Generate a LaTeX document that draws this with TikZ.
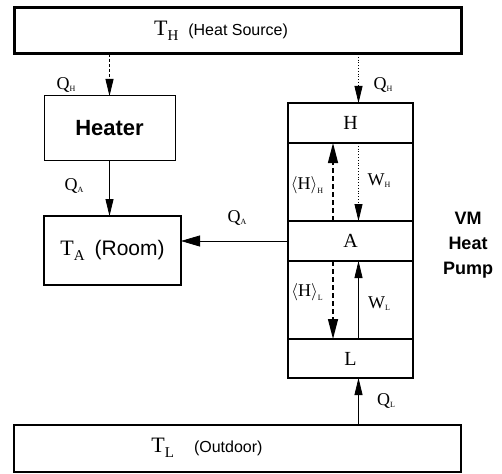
\documentclass[tikz,border=0pt]{standalone}
\usepackage{fontspec}
\setmainfont{Liberation Serif}
\setsansfont{Liberation Sans}
\usetikzlibrary{arrows.meta,calc}
\newcommand{\qlab}[2]{{\fontsize{18}{18}\selectfont #1}\raisebox{-2pt}{\fontsize{8}{8}\selectfont #2}}
\newcommand{\tlab}[2]{{\fontsize{22}{22}\selectfont #1}\raisebox{-5pt}{\fontsize{15}{15}\selectfont #2}}
\newcommand{\hlab}[1]{{\fontsize{18}{18}\selectfont $\langle$H$\rangle$}\raisebox{-4pt}{\fontsize{8}{8}\selectfont #1}}
\begin{document}
\begin{tikzpicture}[x=1pt,y=-1pt,
  frame/.style={draw, inner sep=0pt, outer sep=0pt},
  cell/.style={frame, line width=1.2pt, minimum width=125pt, font=\fontsize{20}{20}\selectfont},
  qarrow/.style={line width=0.8pt, -{Triangle[length=17pt,width=8pt]}},
  hharrow/.style={line width=1.4pt, dash pattern=on 5pt off 3pt, -{Triangle[length=20pt,width=10pt]}},
  lab/.style={inner sep=0pt}]
\useasboundingbox (0,0) rectangle (502,473);
% boxes
\node[frame, line width=3pt, minimum width=447pt, minimum height=46pt] (top) at (237.5,31) {};
\node[lab] (toptxt) at (221,31) {\tlab{T}{H}\quad{\sffamily\fontsize{16}{16}\selectfont (Heat Source)}};
\node[frame, line width=1pt, minimum width=131pt, minimum height=64pt, font=\sffamily\bfseries\fontsize{22}{22}\selectfont] (heater) at (109.5,128) {Heater};
\node[frame, line width=2.5pt, minimum width=137pt, minimum height=69pt] (room) at (112.5,250.5) {\tlab{T}{A}\quad{\sffamily\fontsize{21}{21}\selectfont (Room)}};
\node[frame, line width=2.5pt, minimum width=447pt, minimum height=47pt] (bottom) at (237.5,448.5) {};
\node[lab] (bottxt) at (207,448) {\tlab{T}{L}\qquad{\sffamily\fontsize{16}{16}\selectfont (Outdoor)}};
% pump cells
\node[cell, minimum height=40pt] (pH) at (350.5,123) {H};
\node[cell, minimum height=78pt] (pM) at (350.5,182) {};
\node[cell, minimum height=40pt] (pA) at (350.5,241) {A};
\node[cell, minimum height=78pt] (pLo) at (350.5,300) {};
\node[cell, minimum height=39pt] (pL) at (350.5,358.5) {L};
\coordinate (rx) at ($(pH.north)+(8,0)$);
\coordinate (lx) at ($(pH.north)+(-17.5,0)$);
% arrows
\draw[qarrow, dash pattern=on 3pt off 2pt] (heater.north |- top.south) -- (heater.north);
\draw[qarrow, dotted] (rx |- top.south) -- (rx |- pH.north);
\draw[qarrow] (heater.south) -- (heater.south |- room.north);
\draw[line width=0.8pt, -{Triangle[length=19pt,width=11pt]}] (pA.west) -- (pA.west -| room.east);
\draw[hharrow] (lx |- pM.south) -- (lx |- pM.north);
\draw[qarrow, dotted] (rx |- pM.north) -- (rx |- pM.south);
\draw[hharrow] (lx |- pLo.north) -- (lx |- pLo.south);
\draw[qarrow] (rx |- pLo.south) -- (rx |- pLo.north);
\draw[qarrow] (rx |- bottom.north) -- (rx |- pL.south);
% labels
\node[lab] (qhl) at (66,85) {\qlab{Q}{H}};
\node[lab] (qhr) at (383,85) {\qlab{Q}{H}};
\node[lab] (qal) at (74,186) {\qlab{Q}{A}};
\node[lab] (qar) at (237,218) {\qlab{Q}{A}};
\node[lab] (hh) at (307,185) {\hlab{H}};
\node[lab] (wh) at (379,181) {\qlab{W}{H}};
\node[lab] (hl) at (307,292) {\hlab{L}};
\node[lab] (wl) at (379,304) {\qlab{W}{L}};
\node[lab] (ql) at (386,401) {\qlab{Q}{L}};
\node[lab, align=center, font=\sffamily\bfseries\fontsize{18}{25}\selectfont] (vm) at (468,245) {VM\\Heat\\Pump};
\end{tikzpicture}
\end{document}
